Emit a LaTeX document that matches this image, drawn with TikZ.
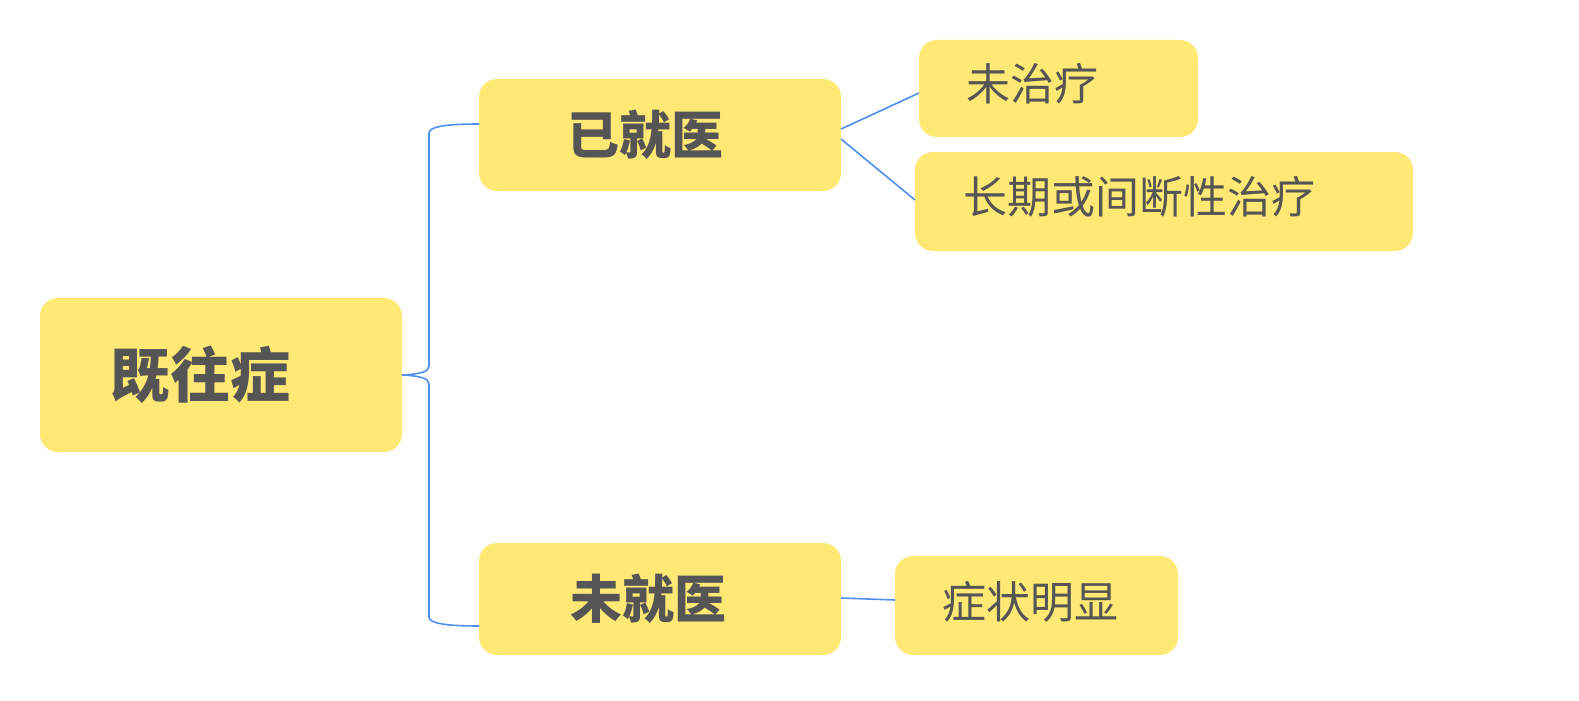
\documentclass[tikz,border=0pt]{standalone}
\usepackage{fontspec}
\newfontfamily\cjk{Noto Sans CJK SC}
\begin{document}
\begin{tikzpicture}[x=0.5pt,y=-0.5pt,
 box/.style={fill=boxy,rounded corners=9pt,inner sep=0},
 big/.style={font=\cjk\bfseries\fontsize{30}{30}\selectfont,text=txt,inner sep=0},
 mid/.style={font=\cjk\bfseries\fontsize{26}{26}\selectfont,text=txt,inner sep=0},
 sml/.style={font=\cjk\fontsize{22}{22}\selectfont,text=txt,inner sep=0,anchor=west},
 ln/.style={draw=lnb,line width=0.8pt}]
\definecolor{boxy}{HTML}{FFE873}
\definecolor{txt}{HTML}{555555}
\definecolor{lnb}{HTML}{4F8FF0}
\useasboundingbox (0,0) rectangle (1579,701);
\path[box] (40,298) rectangle (402,452); \node[big] (r) at (200,375) {既往症};
\path[box] (479,79) rectangle (841,191); \node[mid] (a) at (645,135) {已就医};
\path[box] (479,543) rectangle (841,655); \node[mid] (b) at (648,599) {未就医};
\path[box] (919,40) rectangle (1198,137); \node[sml] (c) at (966,84) {未治疗};
\path[box] (915,152) rectangle (1413,251); \node[sml] (d) at (963,197) {长期或间断性治疗};
\path[box] (895,556) rectangle (1178,655); \node[sml] (e) at (942,602) {症状明显};
\coordinate (rE) at (402,375);
\coordinate (aW) at (479,124); \coordinate (bW) at (479,626);
\draw[ln] (rE) .. controls (420,374) and (429,372) .. (429,366) -- (429,133) .. controls (429,126) and (450,124) .. (aW);
\draw[ln] (rE) .. controls (420,376) and (429,378) .. (429,384) -- (429,617) .. controls (429,624) and (450,626) .. (bW);
\coordinate (a1) at (841,129); \coordinate (a2) at (841,139); \coordinate (b1) at (841,598);
\coordinate (cW) at (919,93); \coordinate (dW) at (915,200); \coordinate (eW) at (895,600);
\draw[ln] (a1) -- (cW); \draw[ln] (a2) -- (dW); \draw[ln] (b1) -- (eW);
\end{tikzpicture}
\end{document}
